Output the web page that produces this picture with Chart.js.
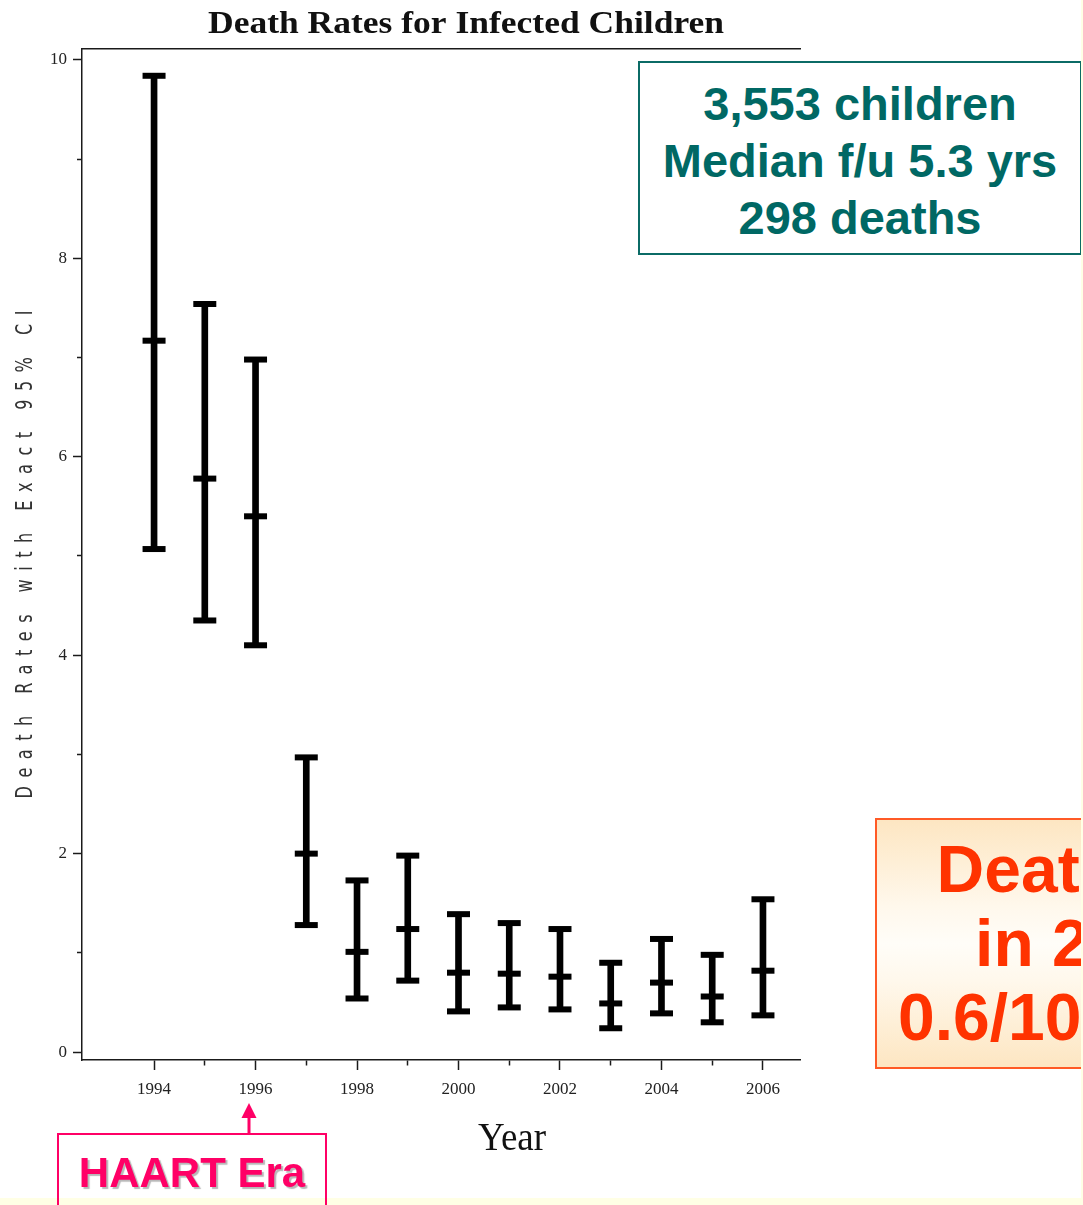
<!DOCTYPE html>
<html>
<head>
<meta charset="utf-8">
<script src="https://cdn.jsdelivr.net/npm/chart.js@4.4.1/dist/chart.umd.min.js"></script>
<style>
  html, body { margin: 0; padding: 0; }
  body { width: 1083px; height: 1205px; overflow: hidden; background: #ffffe5; position: relative; }
  .paper { position: absolute; left: 0; top: 0; width: 1081px; height: 1198px; background: #fff; }
  #chart { position: absolute; left: 0; top: 0; }
  .box { position: absolute; box-sizing: border-box; text-align: center; white-space: nowrap;
         font-family: "Liberation Sans", Arial, sans-serif; font-weight: bold; }
  .teal { left: 638px; top: 61px; width: 444px; height: 194px; border: 2px solid #0b6b66;
          background: #fff; color: #006864; font-size: 47px; line-height: 57px; padding-top: 12px; }
  .orange { left: 875px; top: 818px; width: 446px; height: 251px; border: 2px solid #ff5a26;
            background: linear-gradient(to bottom, #fde6c2 0%, #fff8ec 35%, #fffdf8 50%, #fff8ec 65%, #fde6c2 100%);
            color: #ff3300; font-size: 66px; line-height: 74px; padding-top: 12px; }
  .haart { left: 57px; top: 1133px; width: 270px; height: 100px; border: 2px solid #ff0066;
           color: #ff0066; font-size: 42px; line-height: 47px; padding-top: 14px;
           text-shadow: 2px 2px 1px #b8b8b8; }
  .arrow { position: absolute; left: 239px; top: 1100px; }
  .edge { position: absolute; left: 1081px; top: 0; width: 2px; height: 1205px; background: #ffffe5; }
</style>
</head>
<body>
<div class="paper"></div>
<canvas id="chart" width="1083" height="1205"></canvas>
<div class="box teal">3,553 children<br>Median f/u 5.3 yrs<br>298 deaths</div>
<div class="box orange">Death rate<br>in 2006:<br>0.6/100 p-yrs</div>
<svg class="arrow" width="20" height="34" viewBox="0 0 20 34">
  <polygon points="10,3 2.5,18 17.5,18" fill="#ff0066"/>
  <rect x="8.5" y="16" width="3" height="18" fill="#ff0066"/>
</svg>
<div class="box haart">HAART Era</div>
<div class="edge"></div>

<script>
// death rates per 100 person-years, with exact 95% CI
const years = [1994, 1995, 1996, 1997, 1998, 1999, 2000, 2001, 2002, 2003, 2004, 2005, 2006];
const deathRate = [7.17, 5.78, 5.40, 2.00, 1.01, 1.24, 0.80, 0.79, 0.76, 0.49, 0.70, 0.56, 0.82];
const ciLower = [5.07, 4.35, 4.10, 1.28, 0.54, 0.72, 0.41, 0.45, 0.43, 0.24, 0.39, 0.30, 0.37];
const ciUpper = [9.84, 7.54, 6.98, 2.97, 1.73, 1.98, 1.39, 1.30, 1.24, 0.90, 1.14, 0.98, 1.54];

const xLabelYears = [1994, 1996, 1998, 2000, 2002, 2004, 2006];
const yLabelValues = [0, 2, 4, 6, 8, 10];

const chartTitle = 'Death Rates for Infected Children';
const xTitle = 'Year';
const yTitle = 'Death Rates with Exact 95% CI';

const axisColor = '#1a1a1a';
const tickFont = { family: 'Liberation Serif', size: 17 };

function capDataset(values) {
    return {
        type: 'line',
        data: years.map((yr, i) => ({ x: yr, y: values[i] })),
        showLine: false,
        pointStyle: 'line',
        pointRadius: 11.5,
        pointHoverRadius: 11.5,
        pointBorderWidth: 6,
        pointBorderColor: '#000',
        pointBackgroundColor: '#000'
    };
}

// short ticks on the odd values, drawn as a dash on the axis side
function minorDash(labelled, dash) {
    return c => (!c.tick || labelled.includes(c.tick.value)) ? [] : dash;
}

// titles drawn by hand so the y title can be spaced out like the original
const textPlugin = {
    id: 'chartTexts',
    afterDraw(chart) {
        const { ctx, chartArea } = chart;

        ctx.save();
        ctx.fillStyle = '#111';
        ctx.textAlign = 'center';
        ctx.textBaseline = 'alphabetic';
        ctx.font = 'bold 35.5px "Liberation Serif"';
        ctx.translate(466, 33);
        ctx.scale(1, 0.86);
        ctx.fillText(chartTitle, 0, 0);
        ctx.restore();

        ctx.save();
        ctx.fillStyle = '#111';
        ctx.textAlign = 'center';
        ctx.font = '37px "Liberation Serif"';
        ctx.translate(512, 1150);
        ctx.scale(1, 1.08);
        ctx.fillText(xTitle, 0, 0);
        ctx.restore();

        ctx.save();
        ctx.fillStyle = '#333';
        ctx.textAlign = 'center';
        ctx.textBaseline = 'alphabetic';
        ctx.font = '23px "DejaVu Sans"';
        const squeeze = 0.7;
        const natural = ctx.measureText(yTitle).width;
        const spacing = (488 / squeeze - natural) / (yTitle.length - 1);
        ctx.letterSpacing = spacing + 'px';
        ctx.translate(32, (chartArea.top + chartArea.bottom) / 2);
        ctx.rotate(-Math.PI / 2);
        ctx.scale(squeeze, 1);
        ctx.fillText(yTitle, spacing / 2, 0);
        ctx.restore();
    }
};

const xMin = 1992.58, xMax = 2006.73;

new Chart(document.getElementById('chart'), {
    type: 'bar',
    data: {
        datasets: [
            {
                type: 'bar',
                data: years.map((yr, i) => ({ x: yr, y: [ciLower[i], ciUpper[i]] })),
                backgroundColor: '#000',
                borderWidth: 0,
                barThickness: 6
            },
            capDataset(ciUpper),
            capDataset(deathRate),
            capDataset(ciLower)
        ]
    },
    options: {
        responsive: false,
        animation: false,
        events: [],
        layout: { padding: { left: 0, right: 283, top: 49, bottom: 0 } },
        plugins: {
            legend: { display: false },
            tooltip: { enabled: false },
            title: { display: false }
        },
        scales: {
            x: {
                type: 'linear',
                position: 'bottom',
                min: xMin,
                max: xMax,
                offset: false,
                afterFit: s => { s.height = 145; },
                afterBuildTicks: s => { s.ticks = s.ticks.filter(t => t.value >= years[0]); },
                grid: {
                    offset: false,
                    drawOnChartArea: false,
                    tickLength: 10,
                    tickWidth: 1.5,
                    tickColor: axisColor,
                    tickBorderDash: minorDash(xLabelYears, [5, 30])
                },
                border: { display: true, color: axisColor, width: 1.5 },
                ticks: {
                    stepSize: 1,
                    includeBounds: false,
                    autoSkip: false,
                    maxRotation: 0,
                    padding: 9,
                    color: '#222',
                    font: tickFont,
                    callback: v => xLabelYears.includes(v) ? String(v) : ''
                }
            },
            x2: {
                type: 'linear',
                position: 'top',
                min: xMin,
                max: xMax,
                afterFit: s => { s.height = 0; },
                grid: { offset: false, drawOnChartArea: false, drawTicks: false },
                border: { display: true, color: axisColor, width: 1.5 },
                ticks: { display: false }
            },
            y: {
                type: 'linear',
                position: 'left',
                min: -0.08,
                max: 10.11,
                afterFit: s => { s.width = 82; },
                grid: {
                    drawOnChartArea: false,
                    tickLength: 9,
                    tickWidth: 1.5,
                    tickColor: axisColor,
                    tickBorderDash: minorDash(yLabelValues, [0, 4, 10, 0])
                },
                border: { display: true, color: axisColor, width: 1.5 },
                ticks: {
                    stepSize: 1,
                    includeBounds: false,
                    padding: 6,
                    color: '#222',
                    font: tickFont,
                    callback: v => yLabelValues.includes(v) ? String(v) : ''
                }
            }
        }
    },
    plugins: [textPlugin]
});
</script>
</body>
</html>
